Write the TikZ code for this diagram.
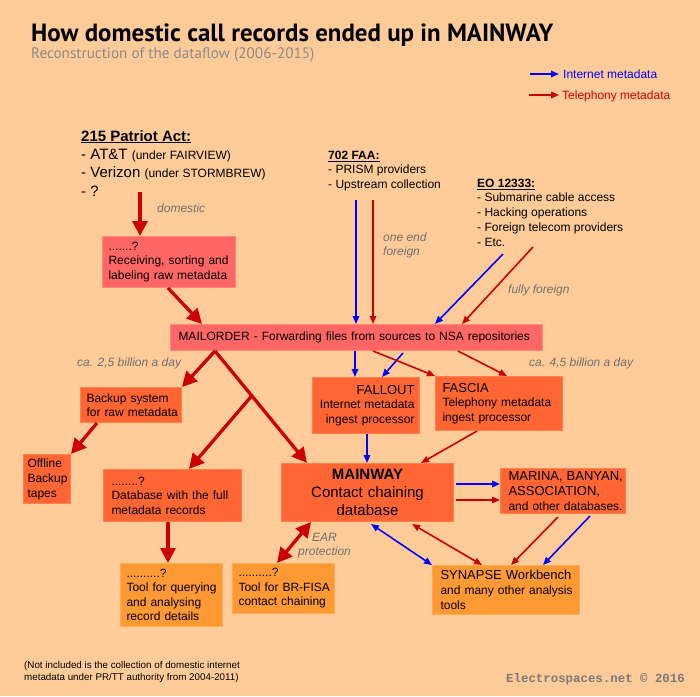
\documentclass[tikz,border=0pt]{standalone}
\usepackage{fontspec}
\setmainfont{Liberation Sans}
\newfontfamily\ptsans{PT Sans}
\newfontfamily\lmono{Liberation Mono}
\usetikzlibrary{arrows.meta,calc}
\definecolor{bgc}{HTML}{FFCC99}
\definecolor{pinkbox}{HTML}{FF6666}
\definecolor{pinkedge}{HTML}{FF8877}
\definecolor{orbox}{HTML}{FF6633}
\definecolor{oredge}{HTML}{FF8050}
\definecolor{ltbox}{HTML}{FF9933}
\definecolor{ltedge}{HTML}{FFAA55}
\definecolor{telred}{HTML}{CC0000}
\definecolor{netblue}{HTML}{0000FF}
\definecolor{lblgray}{HTML}{707070}
\definecolor{subgray}{HTML}{8A8A8A}
\definecolor{credgray}{HTML}{7A7A7A}
\newcommand\padl[2]{\leftskip=#1\relax\hyphenpenalty=10000\relax\exhyphenpenalty=10000\relax #2\par}
\newcommand\padr[2]{\rightskip=#1\relax\hyphenpenalty=10000\relax\exhyphenpenalty=10000\relax #2\par}
\begin{document}
\begin{tikzpicture}[x=1pt,y=-1pt,
  box/.style={anchor=north west, inner xsep=0pt, inner ysep=0pt, align=left,
    font=\fontsize{12}{14.5}\selectfont, text=black, line width=1pt},
  pinkb/.style={box, fill=pinkbox, draw=pinkedge},
  orb/.style={box, fill=orbox, draw=oredge},
  ltb/.style={box, fill=ltbox, draw=ltedge},
  thk/.style={draw=telred, line width=3.3pt, -{Triangle[length=15pt,width=15pt]}},
  thkboth/.style={draw=telred, line width=3.3pt, {Triangle[length=15pt,width=15pt]}-{Triangle[length=15pt,width=15pt]}},
  telarr/.style={draw=telred, line width=1.6pt, -{Triangle[length=8pt,width=6.5pt]}},
  netarr/.style={draw=netblue, line width=1.6pt, -{Triangle[length=8pt,width=6.5pt]}},
  telboth/.style={draw=telred, line width=1.6pt, {Triangle[length=8pt,width=6.5pt]}-{Triangle[length=8pt,width=6.5pt]}},
  netboth/.style={draw=netblue, line width=1.6pt, {Triangle[length=8pt,width=6.5pt]}-{Triangle[length=8pt,width=6.5pt]}},
  lab/.style={anchor=base west, inner sep=0pt, font=\fontsize{12}{14.5}\selectfont\itshape, text=lblgray},
  txt/.style={anchor=base west, inner sep=0pt, align=left}
]
\path[use as bounding box, fill=bgc] (0,0) rectangle (700,696);

% title
\node[txt, font=\ptsans\bfseries\fontsize{24.9}{28}\selectfont] (title) at (31,41) {How domestic call records ended up in MAINWAY};
\node[txt, font=\ptsans\fontsize{15.2}{18}\selectfont, text=subgray] (sub) at (31,58) {Reconstruction of the dataflow (2006-2015)};

% legend
\node[txt, font=\fontsize{12}{14}\selectfont, text=netblue] (legI) at (563,78) {Internet metadata};
\node[txt, font=\fontsize{12}{14}\selectfont, text=telred] (legT) at (562,99) {Telephony metadata};
\coordinate (legIa) at (530,74);
\coordinate (legTa) at (529,95);
\draw[netarr] (legIa) -- ($(legIa -| legI.west)+(-4,0)$);
\draw[telarr] (legTa) -- ($(legTa -| legT.west)+(-3,0)$);

% sources (anchored at the baseline of their last line)
\node[txt, font=\fontsize{15}{18.3}\selectfont] (pat) at (81,196) {\textbf{\underline{215 Patriot Act:}}\\- AT\&T {\fontsize{12}{14}\selectfont(under FAIRVIEW)}\\- Verizon {\fontsize{12}{14}\selectfont(under STORMBREW)}\\- ?};
\node[txt, font=\fontsize{12}{14.3}\selectfont] (faa) at (328,188) {\textbf{\underline{702 FAA:}}\\- PRISM providers\\- Upstream collection};
\node[txt, font=\fontsize{12}{14.7}\selectfont] (eo) at (477,246) {\textbf{\underline{EO 12333:}}\\- Submarine cable access\\- Hacking operations\\- Foreign telecom providers\\- Etc.};

% boxes
\node[pinkb, minimum width=133pt, minimum height=51pt, text width=133pt] (recv) at (102,236) {\padl{6pt}{.......?\\Receiving, sorting and\\labeling raw metadata}};
\node[pinkb, minimum width=372pt, minimum height=26pt, text width=372pt] (mail) at (170,324) {\padl{8pt}{MAILORDER - Forwarding files from sources to NSA repositories}};
\node[orb, align=right, minimum width=107pt, minimum height=56pt, text width=107pt, font=\fontsize{12}{14.7}\selectfont] (fallout) at (312,377) {\padr{5pt}{{\fontsize{13}{15}\selectfont FALLOUT}\\Internet metadata\\ingest processor}};
\node[orb, minimum width=127pt, minimum height=54pt, text width=127pt, font=\fontsize{12}{14.7}\selectfont] (fascia) at (435,376) {\padl{7pt}{{\fontsize{13}{15}\selectfont FASCIA}\\Telephony metadata\\ingest processor}};
\node[orb, minimum width=101pt, minimum height=35pt, text width=101pt] (backup) at (80,387) {\padl{6pt}{Backup system\\for raw metadata}};
\node[orb, minimum width=47pt, minimum height=49pt, text width=47pt, font=\fontsize{12}{15}\selectfont] (offline) at (23,454) {\padl{4pt}{Offline\\Backup\\tapes}};
\node[orb, minimum width=138pt, minimum height=52pt, text width=138pt] (db) at (103,469) {\padl{8pt}{........?\\Database with the full\\metadata records}};
\node[orb, align=center, minimum width=172pt, minimum height=58pt, text width=172pt, font=\fontsize{15}{18}\selectfont] (mainway) at (281,463) {\textbf{MAINWAY}\\Contact chaining\\database};
\node[orb, minimum width=125pt, minimum height=45pt, text width=125pt, font=\fontsize{12}{15}\selectfont] (marina) at (500,468) {\padl{8pt}{{\fontsize{13}{15}\selectfont MARINA, BANYAN,\\ASSOCIATION,}\\and other databases.}};
\node[ltb, minimum width=102pt, minimum height=63pt, text width=102pt] (tool1) at (120,563) {\padl{6pt}{..........?\\Tool for querying\\and analysing\\record details}};
\node[ltb, minimum width=102pt, minimum height=50pt, text width=102pt] (tool2) at (232,563) {\padl{6pt}{..........?\\Tool for BR-FISA\\contact chaining}};
\node[ltb, minimum width=147pt, minimum height=49pt, text width=147pt, font=\fontsize{12}{15}\selectfont] (synapse) at (432,565) {\padl{8pt}{{\fontsize{13}{15}\selectfont SYNAPSE Workbench}\\and many other analysis\\tools}};

% labels
\node[lab] (ldom) at (157,212) {domestic};
\node[lab, align=left] (lone) at (383,255.5) {one end\\foreign};
\node[lab] (lfully) at (508,293) {fully foreign};
\node[lab] (l25) at (77,366) {ca. 2,5 billion a day};
\node[lab] (l45) at (529,366) {ca. 4,5 billion a day};
\node[lab, align=center] (lear) at (298,555.5) {EAR\\protection};

% footer
\node[txt, font=\fontsize{9.8}{12}\selectfont] (note) at (24,680) {(Not included is the collection of domestic internet\\metadata under PR/TT authority from 2004-2011)};
\node[txt, font=\lmono\bfseries\fontsize{12.4}{14}\selectfont, text=credgray] (cred) at (506,682) {Electrospaces.net © 2016};

% free ends
\coordinate (patout) at (140,192);
\coordinate (faaB) at (356,200);
\coordinate (faaR) at (373,200);
\coordinate (eoB) at (503,254);
\coordinate (eoR) at (533,247);

% connectors from sources
\draw[thk] (patout) -- (patout |- recv.north);
\draw[netarr] (faaB) -- (faaB |- mail.north);
\draw[telarr] (faaR) -- (faaR |- mail.north);
\draw[netarr] (eoB) -- ($(mail.north west)+(265,0)$);
\draw[telarr] (eoR) -- ($(mail.north west)+(292,0)$);

% thick telephony flow
\draw[thk] ($(recv.south west)+(66,0)$) -- ($(mail.north west)+(32,0)$);
\coordinate (mA) at ($(mail.south west)+(45,0)$);
\coordinate (mB) at ($(mainway.north west)+(26,0)$);
\coordinate (br) at ($(mA)!0.4!(mB)$);
\draw[thk] (mA) -- (backup.north east);
\draw[thk] (mA) -- (mB);
\draw[thk] (br) -- ($(db.north west)+(86,0)$);
\draw[thk] ($(backup.south west)+(17,0)$) -- (offline.north east);
\draw[thk] ($(db.south west)+(65,0)$) -- ($(tool1.north west)+(48,0)$);
\draw[thkboth] ($(tool2.north west)+(45,0)$) -- ($(mainway.south west)+(30,0)$);

% MAILORDER to processors
\draw[netarr] ($(mail.south west)+(185,0)$) -- ($(fallout.north west)+(43,0)$);
\draw[netarr] ($(mail.south west)+(233,2)$) -- ($(fallout.north west)+(70,0)$);
\draw[telarr] ($(mail.south west)+(203,0)$) -- (fascia.north west);
\draw[telarr] ($(mail.south west)+(288,0)$) -- ($(fascia.north west)+(72,0)$);

% processors to MAINWAY
\draw[netarr] ($(fallout.south west)+(55,0)$) -- ($(mainway.north west)+(86,0)$);
\draw[telarr] ($(fascia.south west)+(42,0)$) -- ($(mainway.north west)+(140,0)$);

% MAINWAY to MARINA
\draw[netarr] ($(mainway.north east)+(2,21)$) -- ($(marina.north west)+(0,16)$);
\draw[telarr] ($(mainway.north east)+(2,37)$) -- ($(marina.north west)+(0,32)$);

% to SYNAPSE
\draw[netboth] ($(mainway.south west)+(90,2)$) -- (synapse.north west);
\draw[telboth] ($(mainway.south west)+(131,2)$) -- ($(synapse.north west)+(50,0)$);
\draw[telarr] ($(marina.south west)+(58,3)$) -- ($(synapse.north west)+(79,0)$);
\draw[netarr] ($(marina.south west)+(90,2)$) -- ($(synapse.north west)+(111,0)$);
\end{tikzpicture}
\end{document}
